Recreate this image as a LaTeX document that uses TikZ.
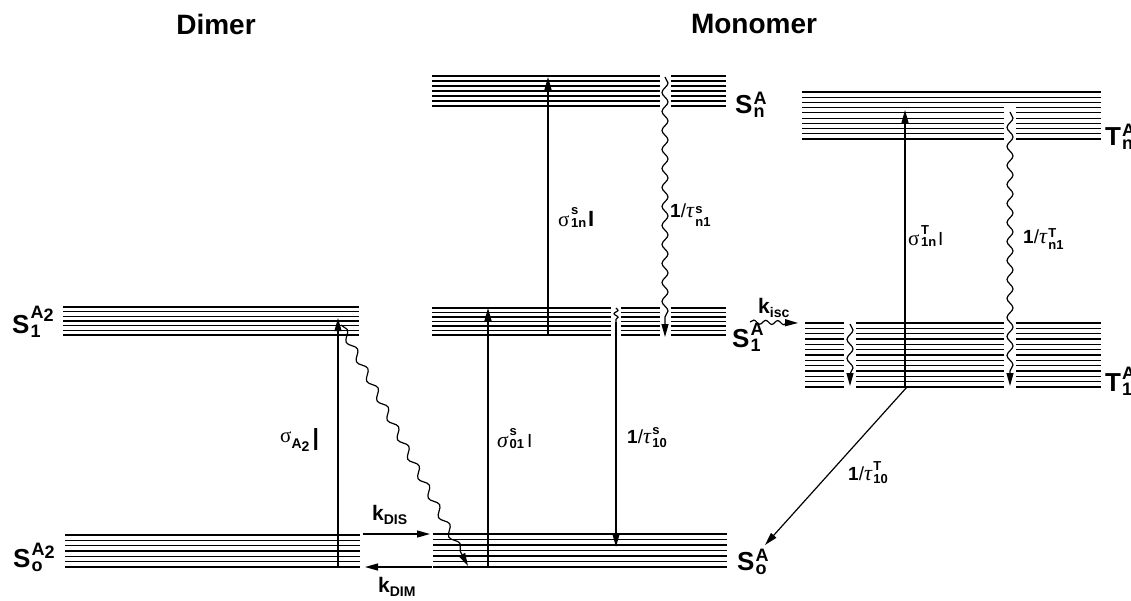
\documentclass[tikz,border=0pt]{standalone}
\usepackage{fontspec}
\setmainfont{Liberation Sans}
\newfontfamily\grk{Liberation Serif}
\usetikzlibrary{arrows.meta,decorations.pathmorphing}
\newcommand\sig{{\grk\mdseries\fontsize{21}{21}\selectfont σ}}
\newcommand\sigi{{\grk\mdseries\itshape\fontsize{22}{22}\selectfont σ}}
\newcommand\tauu{{\grk\mdseries\itshape\fontsize{22}{22}\selectfont τ}}
% stacked super/subscripts: [lowering]{sup}{sub}
\newcommand\ssc[3][2pt]{\hspace{1.5pt}\raisebox{-#1}{\fontsize{13}{13}\selectfont\bfseries\shortstack[l]{#2\\#3}}}
\newcommand\sst[3][4pt]{\hspace{1pt}\raisebox{-#1}{\fontsize{18}{18}\selectfont\bfseries\shortstack[l]{#2\\#3}}}
\newcommand\lv[5]{%
  \foreach \i in {1,...,#5}{%
    \pgfmathsetmacro\yy{#3+(#4-#3)*(\i-1)/(#5-1)}%
    \draw[lvl] (#1,\yy) -- (#2,\yy);}}
\tikzset{
  lvl/.style={line width=1.1pt},
  arr/.style={line width=1.2pt,-{Triangle[length=13pt,width=7pt]}},
  wavy/.style={arr,decorate,decoration={snake,amplitude=3pt,segment length=19pt,post length=12pt}},
  wavyd/.style={arr,decorate,decoration={snake,amplitude=3.5pt,segment length=22pt,post length=14pt}},
  wavys/.style={arr,decorate,decoration={snake,amplitude=2pt,segment length=12pt,post length=8pt}},
  wavyn/.style={line width=1.2pt,decorate,decoration={snake,amplitude=2pt,segment length=7pt}},
  title/.style={font=\fontsize{28}{30}\selectfont\bfseries,inner sep=0pt},
  state/.style={font=\fontsize{26}{28}\selectfont\bfseries,inner sep=0pt,anchor=base west},
  rate/.style={font=\fontsize{19}{20}\selectfont\bfseries,inner sep=0pt,anchor=base west},
  krate/.style={font=\fontsize{21}{22}\selectfont\bfseries,inner sep=0pt,anchor=base west},
  gap/.style={fill=white}
}
\begin{document}
\begin{tikzpicture}[x=1pt,y=-1pt]
\useasboundingbox (0,0) rectangle (1131,600);
% titles
\node[title] (tdim) at (216,24) {Dimer};
\node[title] (tmon) at (754,24) {Monomer};
% level blocks
\lv{63}{359}{307}{335}{7}
\lv{65}{360}{535}{567}{7}
\lv{432}{726}{76}{106}{7}
\lv{432}{726}{308}{335}{7}
\lv{433}{727}{534}{567}{7}
\lv{802}{1101}{92}{139}{10}
\lv{805}{1101}{323}{387}{13}
% gaps where wavy arrows pass
\fill[gap] (660,72) rectangle (671,110);
\fill[gap] (611,304) rectangle (621,339);
\fill[gap] (660,304) rectangle (671,339);
\fill[gap] (1004,106) rectangle (1016,142);
\fill[gap] (1004,319) rectangle (1016,391);
\fill[gap] (844,319) rectangle (856,391);
% state labels
\node[state] (sd1) at (12,333) {S\sst{A\raisebox{-3pt}{2}}{1}};
\node[state] (sd0) at (13,567) {S\sst{A\raisebox{-3pt}{2}}{o}};
\node[state] (smn) at (735,113) {S\sst{A}{n}};
\node[state] (sm1) at (732,347) {S\sst{A}{1}};
\node[state] (sm0) at (737,570) {S\sst{A}{o}};
\node[state] (ttn) at (1105,145) {T\sst{A}{n}};
\node[state] (tt1) at (1105,391) {T\sst{A}{1}};
% rate labels
\node[rate] (la2) at (280,442) {\sig\raisebox{-6pt}{\fontsize{14}{14}\selectfont A\raisebox{-3pt}{2}}\hspace{2pt}\raisebox{-8pt}{\fontsize{32}{32}\selectfont\mdseries I}};
\node[rate] (l1ns) at (558,226) {\sig\ssc[1pt]{s}{1n}\hspace{2pt}{\fontsize{22}{22}\selectfont I}};
\node[rate] (ln1s) at (670,217) {1{\mdseries/}\tauu\ssc[9pt]{s}{n1}};
\node[rate] (l1nT) at (908,245) {\sig\ssc[1pt]{T}{1n}\hspace{2pt}{\mdseries I}};
\node[rate] (ln1T) at (1023,243) {1{\mdseries/}\tauu\ssc[6pt]{T}{n1}};
\node[rate] (l01s) at (497,447) {\sigi\ssc[1pt]{s}{01}\hspace{3pt}{\mdseries I}};
\node[rate] (l10s) at (627,443) {1{\mdseries/}\tauu\ssc[4pt]{s}{10}};
\node[rate] (l10T) at (848,480) {1{\mdseries/}\tauu\ssc[3pt]{T}{10}};
\node[krate] (lkdis) at (372,520) {k\raisebox{-4pt}{\fontsize{14}{14}\selectfont DIS}};
\node[krate] (lkdim) at (378,592) {k\raisebox{-4pt}{\fontsize{14}{14}\selectfont DIM}};
\node[krate] (lkisc) at (758,313) {k\raisebox{-4pt}{\fontsize{14}{14}\selectfont isc}};
% arrow end points
\coordinate (a1) at (338,567); \coordinate (a2) at (338,318);
\coordinate (w1) at (341,325); \coordinate (w2) at (468,566);
\coordinate (k1) at (363,534); \coordinate (k2) at (430,534);
\coordinate (k3) at (432,567); \coordinate (k4) at (365,567);
\coordinate (b1) at (488,567); \coordinate (b2) at (488,308);
\coordinate (c1) at (548,335); \coordinate (c2) at (548,77);
\coordinate (d1) at (665,77);  \coordinate (d2) at (665,337);
\coordinate (e1) at (616,308); \coordinate (e2) at (616,322); \coordinate (e3) at (616,547);
\coordinate (f1) at (750,322); \coordinate (f2) at (798,323);
\coordinate (g1) at (850,324); \coordinate (g2) at (850,386);
\coordinate (h1) at (905,387); \coordinate (h2) at (905,110);
\coordinate (i1) at (1010,112); \coordinate (i2) at (1010,386);
\coordinate (j1) at (907,387); \coordinate (j2) at (765,545);
% connectors
\draw[arr] (a1) -- (a2);
\draw[wavyd] (w1) -- (w2);
\draw[arr] (k1) -- (k2);
\draw[arr] (k3) -- (k4);
\draw[arr] (b1) -- (b2);
\draw[arr] (c1) -- (c2);
\draw[wavy] (d1) -- (d2);
\draw[wavyn] (e1) -- (e2);
\draw[arr] (e2) -- (e3);
\draw[wavys] (f1) -- (f2);
\draw[wavy] (g1) -- (g2);
\draw[arr] (h1) -- (h2);
\draw[wavy] (i1) -- (i2);
\draw[arr] (j1) -- (j2);
\end{tikzpicture}
\end{document}
